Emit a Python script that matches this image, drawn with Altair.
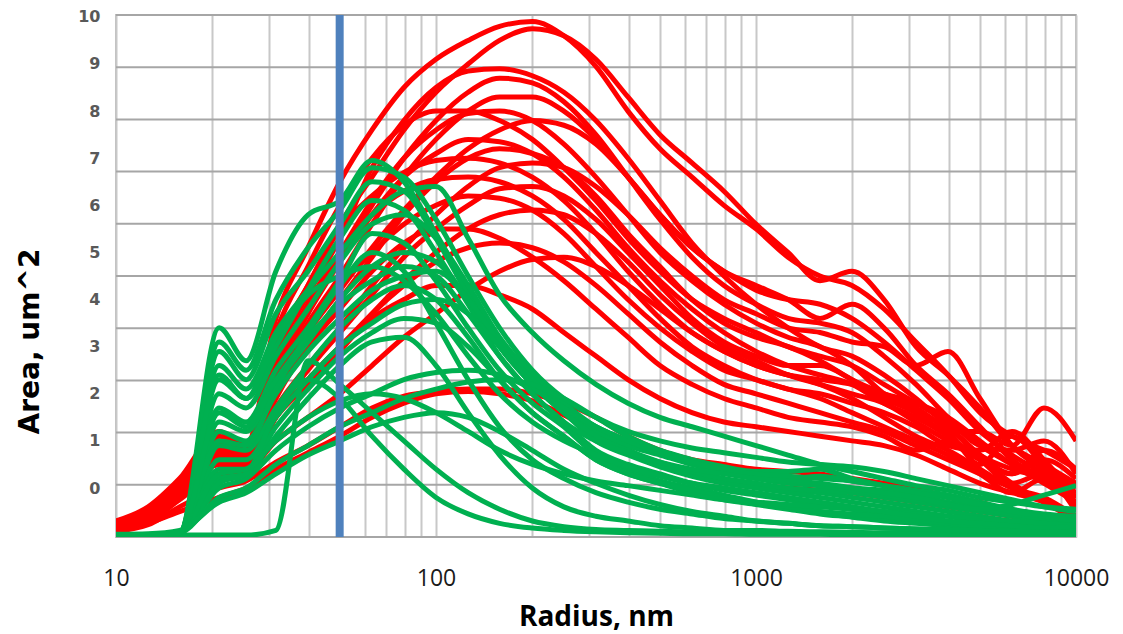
import altair as alt
import pandas as pd

# ---------------- data ----------------
RADIUS = [10, 12.6, 15.8, 21, 25.5, 31.6, 39.8, 50.1, 63.1, 79.4, 100, 126, 158, 200, 251,
          316, 398, 501, 631, 794, 1000, 1259, 1585, 1995, 2512, 3162, 3981, 5012, 6310,
          7943, 10000]

RED = {
    "R01": [-0.7, -0.4, 0.2, 1.2, 0.9, 3.6, 5.1, 6.5, 7.6, 8.5, 9.1, 9.5, 9.8, 9.9, 9.6, 8.95, 8.0, 7.2, 6.6, 6.0, 5.5, 4.9, 4.5, 4.3, 3.8, 3.1, 2.4, 1.6, 1.1, 0.8, 0.4],
    "R02": [-0.74, -0.47, 0.1, 1.0, 0.8, 3.0, 4.3, 5.6, 6.6, 7.6, 8.4, 9.0, 9.5, 9.75, 9.6, 9.1, 8.3, 7.5, 6.9, 6.3, 5.6, 5.0, 4.4, 4.6, 4.0, 3.0, 2.4, 1.7, 0.9, 0.5, 0.1],
    "R03": [-0.76, -0.5, 0.07, 0.95, 0.75, 2.8, 4.1, 5.3, 6.8, 7.8, 8.5, 8.85, 8.9, 8.75, 8.4, 7.8, 7.0, 6.1, 5.2, 4.5, 3.9, 3.4, 3.0, 2.8, 2.4, 1.9, 1.3, 0.7, 0.4, 0.2, -0.2],
    "R04": [-0.78, -0.53, 0.04, 0.88, 0.7, 2.5, 3.8, 4.9, 6.0, 7.0, 7.8, 8.4, 8.7, 8.6, 8.2, 7.5, 6.6, 5.7, 4.9, 4.3, 3.9, 3.6, 3.5, 3.3, 2.8, 2.2, 1.5, 0.9, 0.8, 1.0, 0.3],
    "R05": [-0.77, -0.52, 0.05, 0.9, 0.7, 2.6, 3.9, 5.0, 6.1, 7.0, 7.6, 7.95, 8.0, 7.8, 7.3, 6.6, 5.8, 5.0, 4.4, 3.9, 3.5, 3.2, 3.0, 2.6, 2.0, 1.6, 1.3, 0.7, 0.3, 0.6, 0.2],
    "R06": [-0.81, -0.58, -0.03, 0.75, 0.58, 2.1, 3.3, 4.2, 5.1, 5.9, 6.6, 7.2, 7.6, 7.8, 7.7, 7.3, 6.6, 5.8, 5.1, 4.6, 4.3, 4.0, 3.6, 3.9, 3.4, 2.6, 2.0, 1.3, 0.6, 0.2, -0.3],
    "R07": [-0.78, -0.54, 0.03, 0.86, 0.68, 2.4, 3.7, 4.8, 5.8, 6.6, 7.1, 7.4, 7.35, 7.1, 6.6, 5.9, 5.1, 4.4, 3.8, 3.3, 2.9, 2.6, 2.4, 2.2, 1.8, 1.5, 1.1, 0.6, 0.1, 0.3, -0.4],
    "R08": [-0.82, -0.6, -0.05, 0.7, 0.55, 2.0, 3.1, 4.0, 4.9, 5.8, 6.5, 7.0, 7.2, 7.1, 6.8, 6.2, 5.4, 4.7, 4.0, 3.5, 3.2, 3.0, 2.7, 2.3, 2.0, 1.7, 1.2, 0.5, 1.1, 0.5, 0.0],
    "R09": [-0.74, -0.47, 0.1, 1.0, 0.8, 3.0, 4.3, 5.5, 6.2, 6.7, 6.95, 7.0, 6.9, 6.6, 6.1, 5.4, 4.6, 3.9, 3.3, 2.9, 2.6, 2.4, 2.2, 1.9, 1.5, 1.1, 0.8, 0.4, 0.0, -0.2, -0.6],
    "R10": [-0.85, -0.64, -0.1, 0.6, 0.5, 1.7, 2.6, 3.4, 4.3, 5.1, 5.8, 6.4, 6.8, 6.9, 6.8, 6.4, 5.8, 5.1, 4.5, 4.0, 3.7, 3.4, 3.3, 3.1, 3.0, 2.6, 2.9, 1.9, 0.9, 0.4, 0.1],
    "R11": [-0.77, -0.52, 0.05, 0.9, 0.7, 2.6, 3.9, 5.0, 5.8, 6.3, 6.55, 6.6, 6.5, 6.2, 5.7, 5.0, 4.3, 3.6, 3.0, 2.6, 2.3, 2.1, 1.9, 1.6, 1.3, 1.0, 0.7, 0.3, -0.1, 0.2, -0.5],
    "R12": [-0.86, -0.65, -0.12, 0.58, 0.48, 1.6, 2.5, 3.3, 4.1, 4.9, 5.5, 6.0, 6.35, 6.4, 6.2, 5.7, 5.0, 4.3, 3.6, 3.1, 2.8, 2.6, 2.6, 2.3, 1.9, 1.6, 1.2, 1.2, 0.9, 1.7, 1.0],
    "R13": [-0.8, -0.57, -0.02, 0.78, 0.6, 2.2, 3.4, 4.3, 5.0, 5.6, 6.0, 6.2, 6.15, 5.9, 5.4, 4.7, 4.0, 3.4, 2.9, 2.5, 2.3, 2.1, 2.0, 1.8, 1.6, 1.3, 0.9, 0.8, 1.2, 0.6, -0.2],
    "R14": [-0.87, -0.68, -0.15, 0.5, 0.45, 1.5, 2.2, 2.9, 3.7, 4.4, 5.0, 5.5, 5.8, 5.9, 5.8, 5.4, 4.8, 4.1, 3.5, 3.0, 2.7, 2.4, 2.2, 2.0, 1.8, 1.4, 1.0, 0.6, 0.3, 0.8, 0.4],
    "R15": [-0.87, -0.68, -0.15, 0.5, 0.45, 1.5, 2.3, 3.0, 3.7, 4.3, 4.8, 5.1, 5.2, 5.1, 4.8, 4.3, 3.7, 3.1, 2.6, 2.2, 2.0, 1.8, 1.6, 1.4, 1.2, 0.9, 0.6, 0.3, 0.0, -0.3, -0.7],
    "R16": [-0.87, -0.68, -0.15, 0.5, 0.45, 1.5, 2.3, 3.0, 3.6, 4.0, 4.3, 4.3, 4.1, 3.8, 3.3, 2.8, 2.3, 1.9, 1.6, 1.4, 1.3, 1.2, 1.1, 1.0, 0.9, 0.7, 0.4, 0.1, -0.1, -0.3, -0.6],
    "R17": [-0.9, -0.75, -0.5, -0.2, 0.0, 0.4, 0.75, 1.1, 1.5, 1.8, 2.0, 2.05, 2.0, 1.85, 1.55, 1.2, 0.8, 0.5, 0.3, 0.15, 0.05, 0.0, -0.05, -0.1, -0.2, -0.3, -0.4, -0.5, -0.6, -0.7, -0.8],
    "R18": [-0.92, -0.78, -0.4, 0.0, 0.15, 0.55, 0.9, 1.3, 1.7, 1.95, 2.05, 2.1, 2.1, 2.0, 1.8, 1.5, 1.1, 0.8, 0.6, 0.5, 0.4, 0.35, 0.3, 0.2, 0.1, 0.0, -0.2, -0.3, -0.5, -0.6, -0.8],
    "R19": [-0.9, -0.73, -0.25, 0.3, 0.35, 1.0, 1.5, 2.0, 2.6, 3.2, 3.7, 4.2, 4.6, 4.85, 4.9, 4.7, 4.3, 3.8, 3.3, 2.9, 2.6, 2.4, 2.3, 2.2, 2.0, 1.8, 1.5, 1.0, 0.5, 0.2, -0.2],
    "R20": [-0.8, -0.56, 0.0, 0.8, 0.6, 2.3, 3.5, 4.5, 5.6, 6.6, 7.4, 8.0, 8.3, 8.3, 8.0, 7.4, 6.6, 5.8, 5.1, 4.6, 4.2, 4.0, 3.9, 3.6, 3.1, 2.5, 1.9, 1.2, 0.7, 0.3, -0.1],
    "R21": [-0.83, -0.62, -0.07, 0.68, 0.53, 1.9, 3.0, 3.8, 4.6, 5.2, 5.5, 5.5, 5.3, 4.9, 4.4, 3.8, 3.2, 2.6, 2.2, 1.9, 1.7, 1.5, 1.4, 1.3, 1.1, 0.8, 1.0, 0.6, 0.1, -0.3, -0.6],
    "R22": [-0.72, -0.43, 0.15, 1.1, 0.85, 3.3, 4.7, 6.0, 7.0, 7.7, 8.0, 8.0, 7.8, 7.4, 6.8, 6.1, 5.3, 4.6, 4.0, 3.6, 3.3, 3.0, 2.8, 2.6, 2.2, 1.8, 1.4, 0.9, 0.5, 0.1, -0.3],
}

GREEN = {
    "G01": [-1.0, -1.0, -0.95, 3.4, 2.7, 4.6, 5.8, 6.1, 6.95, 6.5, 5.4, 4.2, 3.1, 2.3, 1.7, 1.1, 0.8, 0.5, 0.3, 0.15, 0.05, -0.05, -0.1, -0.2, -0.3, -0.4, -0.5, -0.6, -0.7, -0.75, -0.8],
    "G02": [-1.0, -1.0, -0.95, 3.1, 2.5, 4.0, 5.1, 5.9, 6.8, 6.6, 5.7, 4.5, 3.4, 2.5, 1.9, 1.5, 1.2, 1.0, 0.85, 0.75, 0.65, 0.55, 0.5, 0.45, 0.35, 0.2, 0.05, -0.1, -0.25, -0.4, -0.5],
    "G03": [-1.0, -1.0, -0.95, 2.6, 2.1, 3.3, 4.2, 5.0, 5.8, 6.3, 6.4, 5.3, 4.1, 3.3, 2.7, 2.2, 1.8, 1.5, 1.3, 1.1, 0.9, 0.7, 0.5, 0.35, 0.2, 0.05, -0.05, -0.2, -0.3, -0.4, -0.45],
    "G04": [-1.0, -1.0, -0.95, 2.9, 2.3, 3.7, 4.6, 5.6, 6.5, 6.3, 5.3, 4.1, 3.0, 2.2, 1.6, 1.0, 0.7, 0.45, 0.25, 0.1, 0.0, -0.1, -0.2, -0.3, -0.4, -0.5, -0.6, -0.7, -0.75, -0.8, -0.85],
    "G05": [-1.0, -1.0, -0.95, 2.3, 1.9, 3.0, 4.2, 5.3, 6.1, 5.9, 5.0, 3.9, 2.8, 2.0, 1.4, 0.8, 0.5, 0.3, 0.1, -0.05, -0.15, -0.25, -0.35, -0.45, -0.55, -0.65, -0.72, -0.8, -0.85, -0.88, -0.9],
    "G06": [-1.0, -1.0, -0.95, 2.0, 1.7, 2.8, 3.8, 4.8, 5.6, 5.8, 5.3, 4.3, 3.2, 2.4, 1.8, 1.3, 1.0, 0.8, 0.6, 0.45, 0.35, 0.35, 0.4, 0.2, 0.05, -0.1, -0.2, -0.35, -0.5, -0.6, -0.7],
    "G07": [-1.0, -1.0, -0.95, 1.7, 1.4, 2.5, 3.4, 4.4, 5.4, 5.2, 4.4, 3.4, 2.5, 1.8, 1.3, 0.7, 0.4, 0.15, 0.0, -0.15, -0.3, -0.4, -0.5, -0.58, -0.65, -0.7, -0.75, -0.8, -0.85, -0.88, -0.9],
    "G08": [-1.0, -1.0, -0.95, 1.4, 1.2, 2.2, 3.1, 4.0, 4.7, 5.0, 4.8, 4.0, 3.0, 2.2, 1.6, 1.2, 0.9, 0.7, 0.5, 0.35, 0.25, 0.15, 0.05, 0.0, -0.05, -0.15, -0.3, -0.4, -0.5, -0.6, -0.7],
    "G09": [-1.0, -1.0, -0.95, 1.2, 1.0, 2.0, 2.9, 3.6, 4.2, 4.5, 4.6, 4.0, 3.1, 2.3, 1.7, 1.3, 1.0, 0.75, 0.55, 0.4, 0.3, 0.2, 0.25, 0.15, 0.05, -0.05, -0.15, -0.3, -0.45, -0.55, -0.6],
    "G10": [-1.0, -1.0, -0.95, 0.9, 0.8, 1.7, 2.6, 3.4, 4.0, 4.3, 4.0, 3.2, 2.3, 1.6, 1.1, 0.6, 0.3, 0.1, -0.1, -0.25, -0.35, -0.45, -0.55, -0.62, -0.7, -0.75, -0.8, -0.84, -0.87, -0.9, -0.92],
    "G11": [-1.0, -1.0, -0.95, 0.6, 0.6, 1.5, 2.3, 3.0, 3.5, 3.9, 4.0, 3.7, 3.0, 2.2, 1.6, 1.1, 0.8, 0.55, 0.35, 0.2, 0.1, 0.0, -0.05, -0.1, -0.2, -0.3, -0.4, -0.5, -0.6, -0.7, -0.75],
    "G12": [-1.0, -1.0, -0.95, 0.4, 0.4, 1.3, 2.1, 2.8, 3.3, 3.6, 3.5, 3.0, 2.3, 1.6, 1.1, 0.6, 0.3, 0.1, -0.05, -0.2, -0.3, -0.4, -0.5, -0.55, -0.6, -0.68, -0.75, -0.8, -0.85, -0.88, -0.9],
    "G13": [-1.0, -1.0, -0.95, 0.2, 0.3, 1.1, 1.9, 2.6, 3.1, 3.2, 2.6, 1.6, 0.7, 0.0, -0.4, -0.6, -0.7, -0.8, -0.85, -0.9, -0.9, -0.92, -0.93, -0.94, -0.95, -0.95, -0.96, -0.96, -0.97, -0.97, -0.98],
    "G14": [-1.0, -1.0, -0.95, 0.0, 0.2, 0.8, 1.3, 1.7, 2.0, 2.3, 2.45, 2.5, 2.4, 2.1, 1.7, 1.3, 1.0, 0.75, 0.5, 0.35, 0.2, 0.1, 0.05, -0.05, -0.15, -0.25, -0.35, -0.45, -0.55, -0.65, -0.7],
    "G15": [-1.0, -1.0, -0.95, -0.2, 0.0, 0.5, 0.9, 1.3, 1.6, 1.9, 2.1, 2.25, 2.3, 2.2, 1.9, 1.5, 1.1, 0.8, 0.55, 0.4, 0.3, 0.25, 0.2, 0.15, 0.05, -0.1, -0.2, -0.35, -0.5, -0.6, -0.7],
    "G16": [-1.0, -1.0, -0.95, 0.1, 0.3, 1.6, 2.3, 1.9, 1.1, 0.4, -0.2, -0.55, -0.75, -0.85, -0.9, -0.93, -0.95, -0.96, -0.97, -0.97, -0.98, -0.98, -0.98, -0.99, -0.99, -0.99, -0.99, -1.0, -1.0, -1.0, -1.0],
    "G17": [-1.0, -1.0, -1.0, -1.0, -1.0, -0.9, 2.7, 2.2, 1.6, 1.0, 0.4, -0.1, -0.45, -0.7, -0.82, -0.88, -0.9, -0.92, -0.93, -0.94, -0.95, -0.95, -0.96, -0.96, -0.97, -0.97, -0.97, -0.98, -0.98, -0.98, -0.98],
    "G18": [-1.0, -1.0, -0.95, 0.3, 0.4, 1.0, 1.5, 1.85, 2.0, 1.9, 1.6, 1.2, 0.8, 0.5, 0.3, 0.15, 0.05, -0.05, -0.15, -0.25, -0.3, -0.35, -0.4, -0.45, -0.5, -0.55, -0.6, -0.65, -0.7, -0.75, -0.8],
    "G19": [-1.0, -1.0, -0.95, 1.0, 0.9, 2.1, 3.3, 4.3, 5.0, 4.6, 3.5, 2.3, 1.3, 0.6, 0.2, -0.1, -0.3, -0.45, -0.55, -0.65, -0.7, -0.75, -0.8, -0.82, -0.85, -0.87, -0.9, -0.92, -0.93, -0.95, -0.96],
    "G20": [-1.0, -1.0, -0.95, 2.4, 1.9, 3.2, 4.1, 4.5, 4.7, 4.4, 3.7, 2.8, 2.0, 1.4, 1.0, 0.7, 0.45, 0.25, 0.1, 0.0, -0.1, -0.2, -0.3, -0.4, -0.5, -0.6, -0.7, -0.75, -0.8, -0.85, -0.8],
    "G21": [-0.98, -0.97, -0.9, -0.3, -0.1, 0.3, 0.7, 1.0, 1.3, 1.5, 1.6, 1.5, 1.2, 0.8, 0.4, 0.1, -0.15, -0.35, -0.5, -0.6, -0.7, -0.75, -0.8, -0.82, -0.85, -0.87, -0.88, -0.9, -0.92, -0.93, -0.95],
    "G22": [-1.0, -1.0, -0.95, 1.6, 1.3, 2.3, 3.2, 3.9, 4.4, 4.7, 4.5, 3.7, 2.8, 2.0, 1.4, 1.0, 0.75, 0.55, 0.4, 0.3, 0.2, 0.15, 0.1, 0.0, -0.1, -0.2, -0.35, -0.45, -0.35, -0.15, 0.05],
}

Y_LABELS = [0, 1, 2, 3, 4, 5, 6, 7, 8, 9, 10]
GRID_LEVELS = [0, 1, 2, 3, 4, 5, 6, 7, 8, 9, 10]
X_GRID = [10, 20, 30, 40, 50, 60, 70, 80, 90,
          100, 200, 300, 400, 500, 600, 700, 800, 900,
          1000, 2000, 3000, 4000, 5000, 6000, 7000, 8000, 9000, 10000]
X_LABELS = ["10", "100", "1000", "10000"]
MARKER_RADIUS = [50]


def to_long(series, group):
    rows = []
    for name, vals in series.items():
        assert len(vals) == len(RADIUS), name
        for r, v in zip(RADIUS, vals):
            rows.append({"radius": r, "value": v, "series": name, "group": group})
    return pd.DataFrame(rows)


red_df = to_long(RED, "red")
green_df = to_long(GREEN, "green")

# ---------------- scales / axes ----------------
x_scale = alt.Scale(type="log", domain=[10, 10000], nice=False)
label_expr = "indexof(" + str(X_LABELS) + ", datum.label) >= 0 ? datum.label : ''"
x_axis = alt.Axis(
    values=X_GRID, format="d", labelExpr=label_expr,
    grid=True, gridColor="#c8c8c8", gridWidth=2,
    ticks=False, tickSize=0, domain=False,
    labelFont="Open Sans", labelFontSize=23, labelColor="#1a1a1a",
    labelPadding=30, labelFlush=False, labelOverlap=False,
    title="Radius, nm", titleFont="Open Sans", titleFontSize=28,
    titleFontWeight="bold", titleColor="#000000",
    titleY=88, titleBaseline="alphabetic",
)

y_scale = alt.Scale(domain=[-1.04, 10.04], nice=False, zero=False)
y_axis = alt.Axis(
    values=Y_LABELS, orient="left", grid=False, ticks=False, domain=False,
    labelFont="DejaVu Sans", labelFontWeight="bold", labelFontSize=16,
    labelColor="#595959", labelPadding=16, labelFlush=False, labelOverlap=False,
    title="Area, um^2", titleFont="DejaVu Sans", titleFontSize=28,
    titleFontWeight="bold", titleColor="#000000",
    titleAngle=270, titleX=-78, titleY=326, titleBaseline="alphabetic",
    titleAlign="center",
)

x_enc = alt.X("radius:Q", scale=x_scale, axis=x_axis)
y_enc = alt.Y("value:Q", scale=y_scale, axis=y_axis)

grid_layer = alt.Chart(pd.DataFrame({"level": GRID_LEVELS})).mark_rule(
    color="#a6a6a6", strokeWidth=2
).encode(
    y=alt.Y("level:Q", scale=alt.Scale(domain=[0, 10], nice=False, zero=False), axis=None)
)

red_layer = alt.Chart(red_df).mark_line(
    color="#ff0000", strokeWidth=5, interpolate="monotone", clip=True, strokeJoin="round"
).encode(x=x_enc, y=y_enc, detail="series:N")

green_layer = alt.Chart(green_df).mark_line(
    color="#00b050", strokeWidth=5, interpolate="monotone", clip=True, strokeJoin="round"
).encode(x=x_enc, y=y_enc, detail="series:N")

lines = alt.layer(red_layer, green_layer)

marker_layer = alt.Chart(pd.DataFrame({"radius": MARKER_RADIUS})).mark_rule(
    color="#4f81bd", strokeWidth=8
).encode(x=x_enc)

chart = alt.layer(grid_layer, lines, marker_layer).resolve_scale(
    y="independent"
).properties(
    width=960, height=522,
    autosize=alt.AutoSizeParams(type="none"),
    padding={"left": 116, "top": 15, "right": 47, "bottom": 97},
    background="white",
).configure_view(stroke="#bfbfbf", strokeWidth=2)

chart.save("out.html", embed_options={"renderer": "svg", "actions": False})
